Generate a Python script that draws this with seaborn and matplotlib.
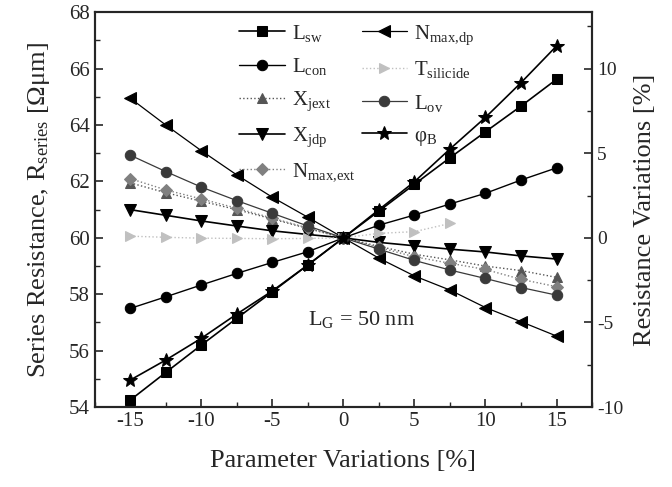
import numpy as np
import pandas as pd
import matplotlib
matplotlib.use('Agg')
import matplotlib.pyplot as plt
from matplotlib.ticker import MultipleLocator
import seaborn as sns

# parameter variation [%]
variation = [-15, -12.5, -10, -7.5, -5, -2.5, 0, 2.5, 5, 7.5, 10, 12.5, 15]

# series resistance [Ohm um] for each varied parameter
r_lsw = [54.25, 55.23, 56.2, 57.15, 58.09, 59.04, 60.0, 60.95, 61.9, 62.84, 63.76, 64.67, 65.62]
r_lcon = [57.5, 57.91, 58.33, 58.74, 59.13, 59.51, 60.0, 60.45, 60.81, 61.2, 61.58, 62.05, 62.48]
r_xjext = [61.95, 61.6, 61.3, 61.0, 60.67, 60.33, 60.0, 59.7, 59.42, 59.22, 59.0, 58.84, 58.6]
r_xjdp = [61.0, 60.8, 60.6, 60.42, 60.25, 60.12, 60.0, 59.84, 59.72, 59.6, 59.5, 59.36, 59.25]
r_nmaxext = [62.1, 61.7, 61.38, 61.05, 60.7, 60.35, 60.0, 59.66, 59.33, 59.1, 58.88, 58.53, 58.27]
r_nmaxdp = [64.95, 64.0, 63.09, 62.23, 61.44, 60.73, 60.0, 59.28, 58.65, 58.15, 57.53, 57.03, 56.52]
r_tsil = [60.06, 60.02, 59.99, 59.98, 59.97, 59.98, 60.0, 60.16, 60.22, 60.51, np.nan, np.nan, np.nan]
r_lov = [62.93, 62.35, 61.8, 61.32, 60.87, 60.42, 60.0, 59.6, 59.2, 58.86, 58.56, 58.24, 57.97]
r_phib = [54.96, 55.67, 56.44, 57.3, 58.12, 59.04, 60.0, 61.0, 61.99, 63.15, 64.27, 65.5, 66.8]

labels = [r'L$_{\rm sw}$', r'L$_{\rm con}$', r'X$_{\rm jext}$', r'X$_{\rm jdp}$',
          r'N$_{\rm max{,}ext}$', r'N$_{\rm max{,}dp}$', r'T$_{\rm silicide}$',
          r'L$_{\rm ov}$', r'φ$_{\rm B}$']

sns.set_style('ticks')
plt.rcParams['font.family'] = ['Liberation Serif', 'DejaVu Serif']
plt.rcParams['mathtext.fontset'] = 'custom'
plt.rcParams['mathtext.rm'] = 'Liberation Serif'
plt.rcParams['mathtext.it'] = 'Liberation Serif:italic'
plt.rcParams['axes.unicode_minus'] = False
plt.rcParams['xtick.direction'] = 'in'
plt.rcParams['ytick.direction'] = 'in'

fig, ax = plt.subplots(figsize=(6.72, 4.87), dpi=100)
fig.subplots_adjust(left=0.141, right=0.881, top=0.975, bottom=0.164)

series = [r_lsw, r_lcon, r_xjext, r_xjdp, r_nmaxext, r_nmaxdp, r_tsil, r_lov, r_phib]
markers = ['s', 'o', '^', 'v', 'D', '<', '>', 'o', '*']
colors = ['black', 'black', '#555555', 'black', '#808080', 'black', '#c0c0c0', '#3a3a3a', 'black']
styles = ['-', '-', ':', '-', ':', '-', ':', '-', '-']
widths = [1.2, 1.0, 1.0, 1.2, 1.0, 0.9, 1.0, 0.9, 1.2]
msizes = [7, 7.5, 7, 8, 6, 8, 7, 7.5, 10]

for vals, lab, mk, col, ls, lw, ms in zip(series, labels, markers, colors, styles, widths, msizes):
    df = pd.DataFrame({'variation': variation, 'R': vals}).dropna()
    sns.lineplot(data=df, x='variation', y='R', ax=ax, label=lab, marker=mk, color=col,
                 linestyle=ls, linewidth=lw, markersize=ms, markeredgecolor=col)

ax.set_xlim(-17.5, 17.5)
ax.set_ylim(54, 68)
ax.xaxis.set_major_locator(MultipleLocator(5))
ax.xaxis.set_minor_locator(MultipleLocator(2.5))
ax.yaxis.set_major_locator(MultipleLocator(2))
ax.yaxis.set_minor_locator(MultipleLocator(1))
ax.tick_params(which='major', length=6, width=1.2, labelsize=15, top=False, right=False)
ax.tick_params(which='minor', length=3.5, width=1.0, top=False, right=False)
ax.set_xlabel('Parameter Variations [%]', fontsize=19, labelpad=14)
ax.set_ylabel(r'Series Resistance, R$_{\rm series}$ [Ωμm]', fontsize=19, labelpad=12)
for s in ax.spines.values():
    s.set_linewidth(1.5)

ax2 = ax.twinx()
ax2.set_ylim((54 / 60 - 1) * 100, (68 / 60 - 1) * 100)
ax2.yaxis.set_major_locator(MultipleLocator(5))
ax2.yaxis.set_minor_locator(MultipleLocator(2.5))
ax2.tick_params(which='major', length=6, width=1.2, labelsize=14)
ax2.tick_params(which='minor', length=3.5, width=1.0)
ax2.set_ylabel('Resistance Variations [%]', fontsize=19, labelpad=8)
for s in ax2.spines.values():
    s.set_linewidth(1.5)

ax.text(-2.5, 57.1, r'L$_{\rm G}$ = 50 nm', fontsize=16, va='center', ha='left')

ax.legend(ncol=2, frameon=False, loc='upper left', bbox_to_anchor=(0.27, 1.0),
          fontsize=15, handlelength=2.2, labelspacing=0.6, columnspacing=0.3,
          handletextpad=0.3, borderaxespad=0.1)

fig.savefig('out.png', dpi=100)
